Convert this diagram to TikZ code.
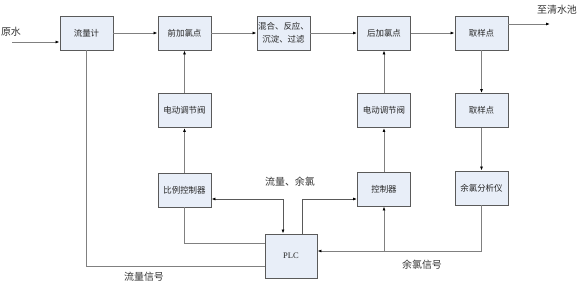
\documentclass[tikz,border=0pt]{standalone}
\usepackage{fontspec}
\setmainfont{Liberation Serif}
\newfontfamily\cjk{Noto Sans CJK SC}
\usetikzlibrary{arrows.meta}
\definecolor{nenkhoi}{RGB}{232,238,248}
\definecolor{vienkhoi}{RGB}{90,90,90}
\definecolor{mauday}{RGB}{128,128,128}
\begin{document}
\begin{tikzpicture}[x=1bp, y=-1bp, >={Latex[length=4bp,width=3bp,color=black]},
    khoi/.style={draw=vienkhoi, fill=nenkhoi, line width=0.9bp, minimum width=53bp,
        minimum height=34bp, inner sep=1bp, align=center,
        font=\cjk\fontsize{8.5}{13}\selectfont, text=black!85},
    day/.style={draw=mauday, line width=1bp},
    daymanh/.style={draw=black!65, line width=0.8bp},
    nhan/.style={font=\cjk\fontsize{10}{12}\selectfont, text=black!80}]
    % 1. Khung hình
    \useasboundingbox (0,0) rectangle (581,287);

    % 2. Các khối hàng trên
    \node[khoi] (flow) at (86.5,33) {流量计};
    \node[khoi] (pre) at (184.5,33) {前加氯点};
    \node[khoi] (mix) at (283.5,33) {混合、反应、\\沉淀、过滤};
    \node[khoi] (post) at (384,33) {后加氯点};
    \node[khoi] (samp) at (481.5,33) {取样点};

    % 3. Các khối hàng giữa và dưới
    \node[khoi] (valveA) at (184.5,110.5) {电动调节阀};
    \node[khoi] (valveB) at (384,110.5) {电动调节阀};
    \node[khoi] (sampB) at (481.5,110.5) {取样点};
    \node[khoi] (ratio) at (184.5,190) {比例控制器};
    \node[khoi] (ctrl) at (384,189) {控制器};
    \node[khoi] (anal) at (481.5,188) {余氯分析仪};
    \node[khoi, minimum width=52bp, minimum height=44bp, font=\fontsize{8.5}{10}\selectfont] (plc) at (291,256) {PLC};

    % 4. Nhãn
    \node[nhan] (inl) at (11,32) {原水};
    \node[nhan] (outl) at (557,10) {至清水池};
    \node[nhan] (sigA) at (290,182) {流量、余氯};
    \node[nhan] (sigB) at (144,277) {流量信号};
    \node[nhan] (sigC) at (422,265) {余氯信号};

    % 5. Điểm phụ
    \coordinate (in) at (12,42);
    \coordinate (out) at (550,24);
    \coordinate (fl) at ([yshift=-10bp]plc.west);
    \coordinate (rt) at ([yshift=13bp]plc.west);
    \coordinate (rl) at ([yshift=5bp]plc.east);
    \coordinate (pa) at ([xshift=-8bp]plc.north);
    \coordinate (pb) at ([xshift=11bp]plc.north);
    \coordinate (ra) at ([yshift=-9bp]ratio.east);
    \coordinate (cb) at ([yshift=-10bp]ctrl.west);

    % 6. Dòng nước
    \draw[day, ->] (in) -- (in -| flow.west);
    \draw[day, ->] (flow) -- (pre);
    \draw[day, ->] (pre) -- (mix);
    \draw[day, ->] (mix) -- (post);
    \draw[day, ->] (post) -- (samp);
    \draw[day, ->] (samp.east |- out) -- (out);
    \draw[day, ->] (samp) -- (sampB);
    \draw[day, ->] (sampB) -- (anal);

    % 7. Đường điều khiển
    \draw[day, ->] (valveA) -- (pre);
    \draw[day, ->] (ratio) -- (valveA);
    \draw[day, ->] (valveB) -- (post);
    \draw[day, ->] (ctrl) -- (valveB);
    \draw[day] (flow.south) |- (fl);
    \draw[day] (ratio.south) |- (rt);
    \draw[daymanh, <->] (ra) -| (pa);
    \draw[daymanh, ->] (pb) |- (cb);
    \draw[day, ->] (anal.south) |- (rl);
    \draw[day, ->] (ctrl |- rl) -- (ctrl.south);
\end{tikzpicture}
\end{document}
